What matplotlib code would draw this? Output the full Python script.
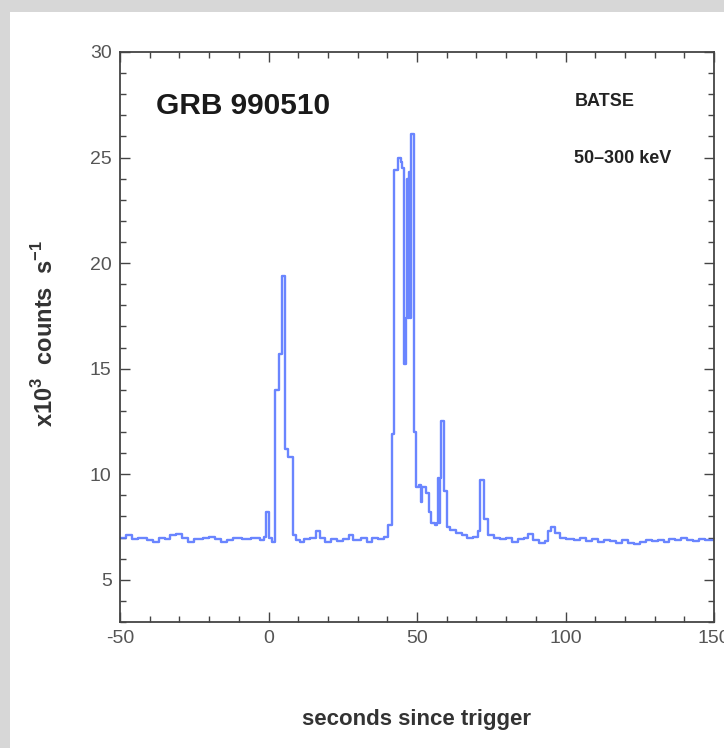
import matplotlib
matplotlib.use("Agg")
import matplotlib.pyplot as plt
from matplotlib.patches import Rectangle
from matplotlib.ticker import MultipleLocator

plt.rcParams['axes.unicode_minus'] = False
plt.rcParams['font.family'] = ['Liberation Sans', 'DejaVu Sans']
plt.rcParams['mathtext.fontset'] = 'custom'
plt.rcParams['mathtext.rm'] = 'Liberation Sans'
plt.rcParams['mathtext.bf'] = 'Liberation Sans:bold'

# step edges (seconds since trigger) and count rates (x10^3 counts/s)
time_s = [-50, -48, -46, -44, -41, -39, -37, -35, -33, -31, -29, -27, -25, -22, -20,
          -18, -16, -14, -12, -9, -6, -3, -1.5, -0.8, 0.2, 1.2, 2.2, 3.6, 4.5, 5.6,
          6.5, 8.4, 9.3, 10.5, 12, 14, 16, 17.5, 19, 21, 23, 25, 27, 28.5, 31,
          33, 35, 37, 39, 40.3, 41.5, 42.3, 43.5, 44.5, 45.0, 45.6, 46.4, 46.7, 47.0, 47.3,
          47.6, 47.9, 49.0, 49.6, 50.6, 51.2, 51.8, 53.1, 54.0, 54.8, 56.0, 56.6, 57.0, 57.3, 57.6,
          58.0, 59.2, 60.0, 61, 63, 65, 67, 69, 70.6, 71.2, 72.6, 73.8, 76, 78, 80,
          82, 84, 86, 87.5, 89, 91, 93, 94, 95, 96.5, 98, 100, 103, 105, 107,
          109, 111, 113, 115, 117, 119, 121, 123, 125, 127, 129, 131, 133, 135, 137,
          139, 141, 143, 145, 147, 150]
rate = [7.0, 7.1, 6.95, 7.0, 6.9, 6.8, 7.0, 6.95, 7.1, 7.15, 7.0, 6.8, 6.95, 7.0, 7.05,
        6.95, 6.8, 6.9, 7.0, 6.95, 7.0, 6.9, 7.05, 8.2, 7.0, 6.8, 14.0, 15.7, 19.4, 11.2,
        10.8, 7.1, 6.9, 6.8, 6.95, 7.0, 7.3, 7.0, 6.8, 6.95, 6.85, 6.95, 7.1, 6.9, 7.0,
        6.8, 7.0, 6.95, 7.05, 7.6, 11.9, 24.4, 25.0, 24.8, 24.5, 15.2, 17.4, 24.0, 17.4, 24.3,
        17.4, 26.1, 12.0, 9.4, 9.5, 8.7, 9.4, 9.1, 8.2, 7.7, 7.6, 7.7, 9.8, 7.7, 9.8,
        12.5, 9.2, 7.5, 7.35, 7.2, 7.1, 7.0, 7.05, 7.3, 9.75, 7.9, 7.1, 7.0, 6.95, 7.0,
        6.8, 6.95, 7.0, 7.15, 6.9, 6.75, 6.85, 7.3, 7.5, 7.2, 7.0, 6.95, 6.9, 7.0, 6.85,
        6.95, 6.8, 6.9, 6.85, 6.75, 6.9, 6.75, 6.7, 6.8, 6.9, 6.85, 6.9, 6.8, 6.95, 6.9,
        7.0, 6.9, 6.85, 6.95, 6.9, 6.9]

x_ticks = [-50, 0, 50, 100, 150]
y_ticks = [5, 10, 15, 20, 25, 30]

W, H = 724, 748
fig = plt.figure(figsize=(W / 100, H / 100), dpi=100)
fig.patch.set_facecolor('#d7d7d7')
fig.patches.append(Rectangle((10 / W, 0), (W - 10) / W, (H - 12) / H,
                             transform=fig.transFigure, facecolor='white',
                             edgecolor='none', zorder=-5))

ax = fig.add_axes([120 / W, (H - 622) / H, (714 - 120) / W, (622 - 52) / H])
ax.set_facecolor('white')
ax.step(time_s, rate, where='post', color='#5a78ff', lw=1.7, alpha=0.9)

ax.set_xlim(-50, 150)
ax.set_ylim(3, 30)
ax.set_xticks(x_ticks)
ax.set_yticks(y_ticks)
ax.xaxis.set_minor_locator(MultipleLocator(10))
ax.yaxis.set_minor_locator(MultipleLocator(1))

ax.tick_params(which='both', direction='in', top=True, right=True,
               color='#444444', width=1.0)
ax.tick_params(which='major', length=7, labelsize=14, labelcolor='#555555', pad=6)
ax.tick_params(which='minor', length=4)
for sp in ax.spines.values():
    sp.set_color('#444444')
    sp.set_linewidth(1.3)

ax.text(0.06, 0.905, 'GRB 990510', transform=ax.transAxes, fontsize=21.5,
        fontweight='bold', color='#1a1a1a', va='center', ha='left')
ax.text(0.765, 0.913, 'BATSE', transform=ax.transAxes, fontsize=13,
        fontweight='bold', color='#222222', va='center', ha='left')
ax.text(0.765, 0.813, '50–300 keV', transform=ax.transAxes, fontsize=13,
        fontweight='bold', color='#222222', va='center', ha='left')

fig.text(45 / W, 1 - 334 / H, r'x10$^{\mathbf{3}}$  counts  s$^{\mathbf{-1}}$', rotation=90,
         fontsize=17, fontweight='bold', color='#333333', ha='center', va='center')
fig.text(417 / W, 1 - 720 / H, 'seconds since trigger', fontsize=16,
         fontweight='bold', color='#333333', ha='center', va='center')

fig.savefig('out.png', dpi=100, facecolor=fig.get_facecolor())
